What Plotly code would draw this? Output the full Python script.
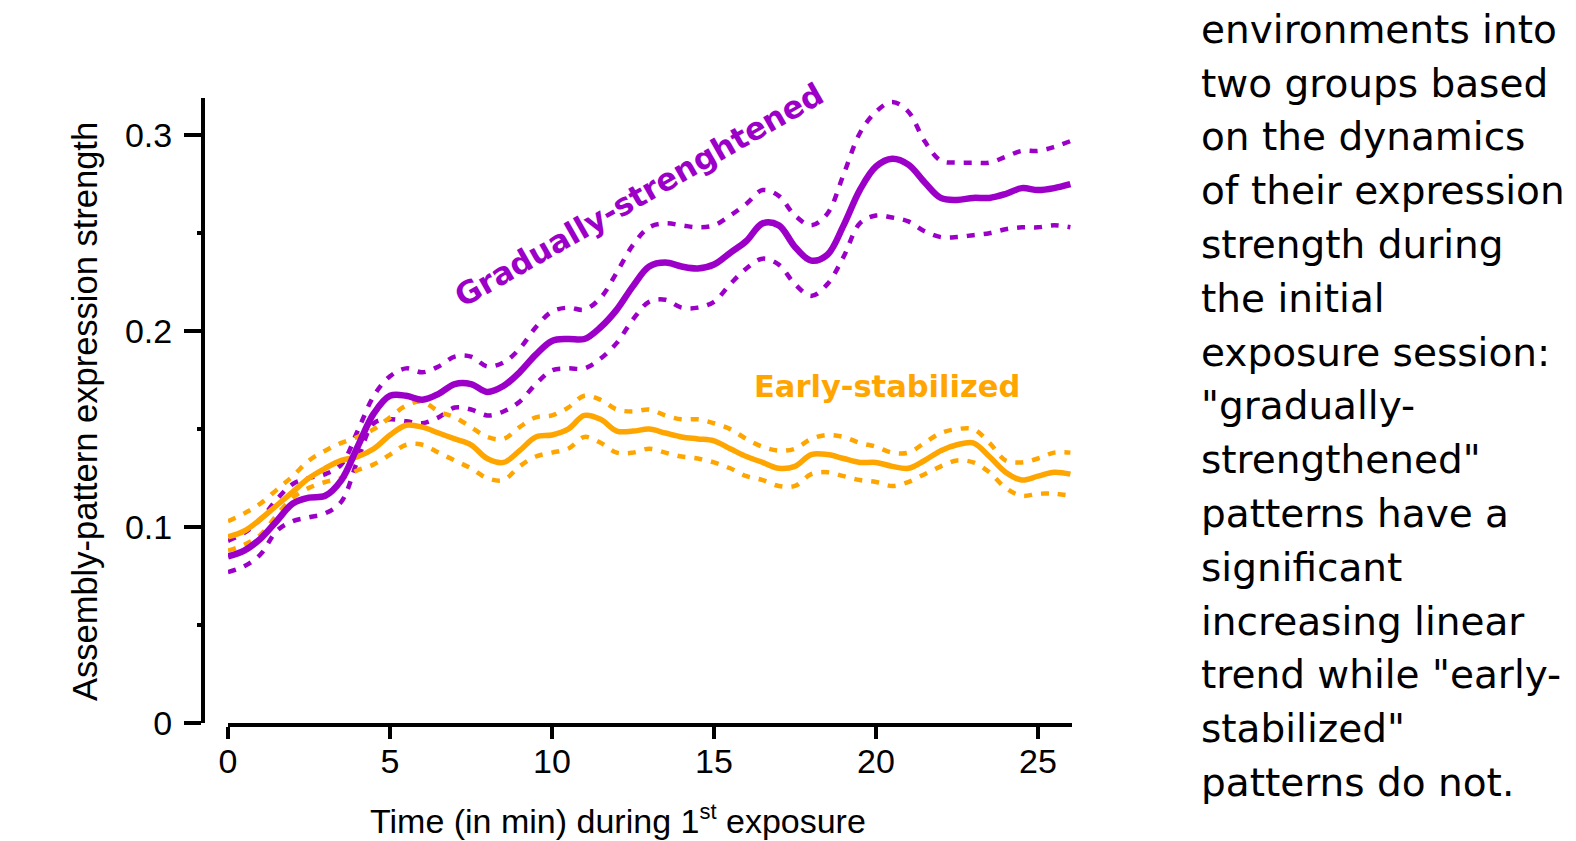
import plotly.graph_objects as go

# ---------------- data ----------------
time_min = [i * 0.5 for i in range(53)]  # 0 .. 26 min

grad_mean = [0.085, 0.088, 0.094, 0.103, 0.112, 0.115, 0.116, 0.124, 0.141, 0.158,
             0.167, 0.167, 0.165, 0.168, 0.173, 0.173, 0.169, 0.172, 0.179, 0.188,
             0.195, 0.196, 0.196, 0.202, 0.211, 0.223, 0.233, 0.235, 0.233, 0.232,
             0.234, 0.240, 0.246, 0.255, 0.254, 0.243, 0.236, 0.239, 0.254, 0.272,
             0.284, 0.288, 0.285, 0.276, 0.268, 0.267, 0.268, 0.268, 0.270, 0.273,
             0.272, 0.273, 0.275]
grad_upper = [0.093, 0.097, 0.104, 0.114, 0.122, 0.125, 0.127, 0.132, 0.149, 0.167,
              0.177, 0.181, 0.179, 0.182, 0.187, 0.187, 0.182, 0.184, 0.191, 0.202,
              0.210, 0.212, 0.211, 0.217, 0.230, 0.244, 0.253, 0.255, 0.254, 0.253,
              0.254, 0.259, 0.265, 0.272, 0.269, 0.259, 0.254, 0.260, 0.280, 0.301,
              0.312, 0.317, 0.312, 0.297, 0.287, 0.286, 0.286, 0.286, 0.289, 0.292,
              0.292, 0.294, 0.297]
grad_lower = [0.077, 0.080, 0.086, 0.098, 0.103, 0.105, 0.107, 0.113, 0.134, 0.153,
              0.155, 0.154, 0.153, 0.156, 0.161, 0.160, 0.157, 0.159, 0.164, 0.173,
              0.180, 0.181, 0.181, 0.186, 0.194, 0.206, 0.215, 0.216, 0.212, 0.212,
              0.215, 0.224, 0.232, 0.237, 0.234, 0.224, 0.218, 0.224, 0.238, 0.255,
              0.259, 0.258, 0.256, 0.251, 0.248, 0.248, 0.249, 0.250, 0.252, 0.253,
              0.253, 0.254, 0.253]

early_mean = [0.095, 0.098, 0.104, 0.111, 0.118, 0.125, 0.130, 0.134, 0.136, 0.140,
              0.147, 0.152, 0.151, 0.148, 0.145, 0.142, 0.135, 0.133, 0.139, 0.146,
              0.147, 0.150, 0.157, 0.155, 0.149, 0.149, 0.150, 0.148, 0.146, 0.145,
              0.144, 0.140, 0.136, 0.133, 0.130, 0.131, 0.137, 0.137, 0.135, 0.133,
              0.133, 0.131, 0.130, 0.134, 0.139, 0.142, 0.143, 0.136, 0.128, 0.124,
              0.126, 0.128, 0.127]
early_upper = [0.103, 0.107, 0.112, 0.119, 0.126, 0.134, 0.139, 0.143, 0.146, 0.150,
               0.156, 0.162, 0.164, 0.159, 0.156, 0.151, 0.146, 0.145, 0.151, 0.156,
               0.157, 0.161, 0.167, 0.165, 0.160, 0.159, 0.160, 0.157, 0.155, 0.155,
               0.153, 0.150, 0.145, 0.141, 0.139, 0.140, 0.145, 0.147, 0.146, 0.143,
               0.141, 0.138, 0.138, 0.143, 0.148, 0.150, 0.150, 0.143, 0.134, 0.133,
               0.135, 0.138, 0.138]
early_lower = [0.088, 0.091, 0.096, 0.106, 0.115, 0.120, 0.123, 0.125, 0.129, 0.132,
               0.137, 0.142, 0.142, 0.138, 0.134, 0.130, 0.125, 0.124, 0.131, 0.136,
               0.138, 0.140, 0.146, 0.143, 0.138, 0.138, 0.140, 0.138, 0.136, 0.135,
               0.133, 0.130, 0.126, 0.124, 0.121, 0.121, 0.127, 0.128, 0.126, 0.124,
               0.123, 0.121, 0.123, 0.127, 0.131, 0.134, 0.133, 0.128, 0.120, 0.116,
               0.117, 0.117, 0.116]

x_ticks = [0, 5, 10, 15, 20, 25]
y_ticks = [0, 0.1, 0.2, 0.3]
y_tick_labels = ["0", "0.1", "0.2", "0.3"]
y_minor = [0.05, 0.15, 0.25]

side_text = [
    "environments into",
    "two groups based",
    "on the dynamics",
    "of their expression",
    "strength during",
    "the initial",
    "exposure session:",
    "\"gradually-",
    "strengthened\"",
    "patterns have a",
    "significant",
    "increasing linear",
    "trend while \"early-",
    "stabilized\"",
    "patterns do not.",
]

# ---------------- style ----------------
PURPLE = "#9C00C8"
ORANGE = "#FFA500"
W, H = 1576, 841
L, R, T, B = 203, 1072, 98, 723  # plot frame in pixels
X0_PX = 228  # pixel where x = 0


def px(xp, yp):
    return (xp - L) / (R - L), (B - yp) / (B - T)


fig = go.Figure()

dotted = "8px,9px"
for ys, col, wid, dash in [
    (grad_upper, PURPLE, 4.5, dotted),
    (grad_lower, PURPLE, 4.5, dotted),
    (early_upper, ORANGE, 4.5, dotted),
    (early_lower, ORANGE, 4.5, dotted),
    (early_mean, ORANGE, 5.5, "solid"),
    (grad_mean, PURPLE, 6.5, "solid"),
]:
    fig.add_trace(go.Scatter(
        x=time_min, y=ys, mode="lines",
        line=dict(color=col, width=wid, dash=dash, shape="spline", smoothing=1.0),
        showlegend=False, hoverinfo="skip",
    ))

tickfont = dict(family="Liberation Sans, Arial, sans-serif", size=34, color="black")

fig.update_layout(
    width=W, height=H,
    margin=dict(l=L, r=W - R, t=T, b=H - B, pad=0),
    paper_bgcolor="white", plot_bgcolor="white",
    showlegend=False,
    xaxis=dict(
        domain=[(X0_PX - L) / (R - L), 1],
        range=[0, 26.05],
        tickvals=x_ticks,
        ticks="outside", ticklen=12, tickwidth=4, tickcolor="black",
        showline=True, linewidth=4, linecolor="black",
        showgrid=False, zeroline=False,
        tickfont=tickfont,
        ticklabelstandoff=-7,
        anchor="y",
    ),
    yaxis=dict(
        anchor="free", position=0,
        range=[0, 0.319],
        tickvals=y_ticks, ticktext=y_tick_labels,
        ticks="outside", ticklen=17, tickwidth=4, tickcolor="black",
        showline=True, linewidth=4, linecolor="black",
        showgrid=False, zeroline=False,
        tickfont=tickfont,
        ticklabelstandoff=5,
        minor=dict(tickvals=y_minor, ticks="outside", ticklen=4, tickwidth=4,
                   tickcolor="black", showgrid=False),
    ),
)

annotations = []
# axis titles
ax, ay = px(618, 819)
annotations.append(dict(
    text="Time (in min) during 1<sup><span style='font-size:22px'>st</span></sup> exposure",
    xref="paper", yref="paper",
    x=ax, y=ay, xanchor="center", yanchor="middle", showarrow=False,
    font=dict(family="Liberation Sans, Arial, sans-serif", size=34, color="black")))
ax, ay = px(85, 412)
annotations.append(dict(
    text="Assembly-pattern expression strength", xref="paper", yref="paper",
    x=ax, y=ay, xanchor="center", yanchor="middle", textangle=-90, showarrow=False,
    font=dict(family="Liberation Sans, Arial, sans-serif", size=34.5, color="black")))

# series labels
annotations.append(dict(
    text="<b>Gradually-strenghtened</b>", x=12.68, y=0.2694, xref="x", yref="y",
    textangle=-29.7, showarrow=False, xanchor="center", yanchor="middle",
    font=dict(family="DejaVu Sans, Verdana, sans-serif", size=31, color=PURPLE)))
annotations.append(dict(
    text="<b>Early-stabilized</b>", x=20.35, y=0.172, xref="x", yref="y",
    showarrow=False, xanchor="center", yanchor="middle",
    font=dict(family="DejaVu Sans, Verdana, sans-serif", size=30.5, color=ORANGE)))

# side paragraph
for i, line in enumerate(side_text):
    baseline = 43 + i * 53.8
    ax, ay = px(1199, baseline - 13.7)
    annotations.append(dict(
        text=line, xref="paper", yref="paper", x=ax, y=ay,
        xanchor="left", yanchor="middle", showarrow=False,
        font=dict(family="DejaVu Sans, Verdana, sans-serif", size=39, color="black")))

fig.update_layout(annotations=annotations)

fig.write_html("out.html")
